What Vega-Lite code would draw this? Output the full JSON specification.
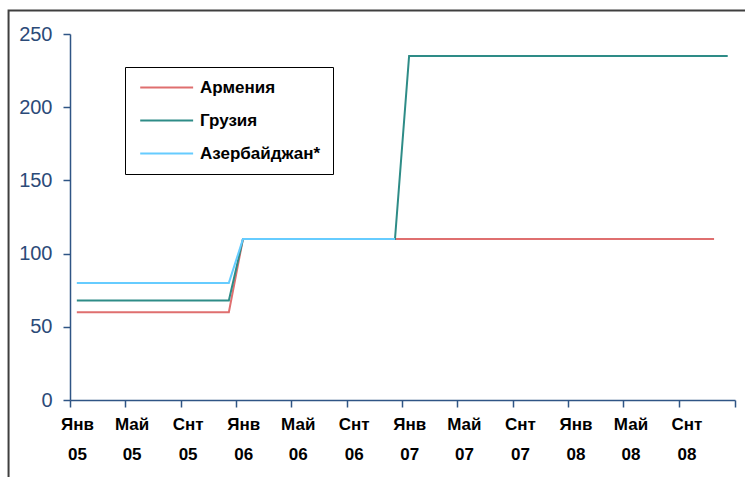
{
  "$schema": "https://vega.github.io/schema/vega-lite/v6.json",
  "width": 665,
  "height": 366,
  "autosize": {"type": "none"},
  "padding": {"left": 70, "top": 34, "right": 10, "bottom": 77},
  "background": "white",
  "config": {"view": {"stroke": null}, "font": "Liberation Sans"},
  "layer": [
    {
      "data": {"values": [{}]},
      "mark": {"type": "rect", "fill": null, "stroke": "#3f3f3f", "strokeWidth": 2, "clip": false},
      "encoding": {
        "x": {"datum": {"year": 2004, "month": 8, "date": 19, "utc": true}, "type": "temporal"},
        "x2": {"datum": {"year": 2009, "month": 4, "date": 1, "utc": true}},
        "y": {"datum": 266, "type": "quantitative"},
        "y2": {"datum": -80}
      }
    },
    {
      "data": {
        "values": [
          {"date": "2005-01-16", "series": "Армения", "value": 60},
          {"date": "2005-02-16", "series": "Армения", "value": 60},
          {"date": "2005-03-16", "series": "Армения", "value": 60},
          {"date": "2005-04-16", "series": "Армения", "value": 60},
          {"date": "2005-05-16", "series": "Армения", "value": 60},
          {"date": "2005-06-16", "series": "Армения", "value": 60},
          {"date": "2005-07-16", "series": "Армения", "value": 60},
          {"date": "2005-08-16", "series": "Армения", "value": 60},
          {"date": "2005-09-16", "series": "Армения", "value": 60},
          {"date": "2005-10-16", "series": "Армения", "value": 60},
          {"date": "2005-11-16", "series": "Армения", "value": 60},
          {"date": "2005-12-16", "series": "Армения", "value": 60},
          {"date": "2006-01-16", "series": "Армения", "value": 110},
          {"date": "2006-02-16", "series": "Армения", "value": 110},
          {"date": "2006-03-16", "series": "Армения", "value": 110},
          {"date": "2006-04-16", "series": "Армения", "value": 110},
          {"date": "2006-05-16", "series": "Армения", "value": 110},
          {"date": "2006-06-16", "series": "Армения", "value": 110},
          {"date": "2006-07-16", "series": "Армения", "value": 110},
          {"date": "2006-08-16", "series": "Армения", "value": 110},
          {"date": "2006-09-16", "series": "Армения", "value": 110},
          {"date": "2006-10-16", "series": "Армения", "value": 110},
          {"date": "2006-11-16", "series": "Армения", "value": 110},
          {"date": "2006-12-16", "series": "Армения", "value": 110},
          {"date": "2007-01-16", "series": "Армения", "value": 110},
          {"date": "2007-02-16", "series": "Армения", "value": 110},
          {"date": "2007-03-16", "series": "Армения", "value": 110},
          {"date": "2007-04-16", "series": "Армения", "value": 110},
          {"date": "2007-05-16", "series": "Армения", "value": 110},
          {"date": "2007-06-16", "series": "Армения", "value": 110},
          {"date": "2007-07-16", "series": "Армения", "value": 110},
          {"date": "2007-08-16", "series": "Армения", "value": 110},
          {"date": "2007-09-16", "series": "Армения", "value": 110},
          {"date": "2007-10-16", "series": "Армения", "value": 110},
          {"date": "2007-11-16", "series": "Армения", "value": 110},
          {"date": "2007-12-16", "series": "Армения", "value": 110},
          {"date": "2008-01-16", "series": "Армения", "value": 110},
          {"date": "2008-02-16", "series": "Армения", "value": 110},
          {"date": "2008-03-16", "series": "Армения", "value": 110},
          {"date": "2008-04-16", "series": "Армения", "value": 110},
          {"date": "2008-05-16", "series": "Армения", "value": 110},
          {"date": "2008-06-16", "series": "Армения", "value": 110},
          {"date": "2008-07-16", "series": "Армения", "value": 110},
          {"date": "2008-08-16", "series": "Армения", "value": 110},
          {"date": "2008-09-16", "series": "Армения", "value": 110},
          {"date": "2008-10-16", "series": "Армения", "value": 110},
          {"date": "2008-11-16", "series": "Армения", "value": 110},
          {"date": "2005-01-16", "series": "Грузия", "value": 68},
          {"date": "2005-02-16", "series": "Грузия", "value": 68},
          {"date": "2005-03-16", "series": "Грузия", "value": 68},
          {"date": "2005-04-16", "series": "Грузия", "value": 68},
          {"date": "2005-05-16", "series": "Грузия", "value": 68},
          {"date": "2005-06-16", "series": "Грузия", "value": 68},
          {"date": "2005-07-16", "series": "Грузия", "value": 68},
          {"date": "2005-08-16", "series": "Грузия", "value": 68},
          {"date": "2005-09-16", "series": "Грузия", "value": 68},
          {"date": "2005-10-16", "series": "Грузия", "value": 68},
          {"date": "2005-11-16", "series": "Грузия", "value": 68},
          {"date": "2005-12-16", "series": "Грузия", "value": 68},
          {"date": "2006-01-16", "series": "Грузия", "value": 110},
          {"date": "2006-02-16", "series": "Грузия", "value": 110},
          {"date": "2006-03-16", "series": "Грузия", "value": 110},
          {"date": "2006-04-16", "series": "Грузия", "value": 110},
          {"date": "2006-05-16", "series": "Грузия", "value": 110},
          {"date": "2006-06-16", "series": "Грузия", "value": 110},
          {"date": "2006-07-16", "series": "Грузия", "value": 110},
          {"date": "2006-08-16", "series": "Грузия", "value": 110},
          {"date": "2006-09-16", "series": "Грузия", "value": 110},
          {"date": "2006-10-16", "series": "Грузия", "value": 110},
          {"date": "2006-11-16", "series": "Грузия", "value": 110},
          {"date": "2006-12-16", "series": "Грузия", "value": 110},
          {"date": "2007-01-16", "series": "Грузия", "value": 235},
          {"date": "2007-02-16", "series": "Грузия", "value": 235},
          {"date": "2007-03-16", "series": "Грузия", "value": 235},
          {"date": "2007-04-16", "series": "Грузия", "value": 235},
          {"date": "2007-05-16", "series": "Грузия", "value": 235},
          {"date": "2007-06-16", "series": "Грузия", "value": 235},
          {"date": "2007-07-16", "series": "Грузия", "value": 235},
          {"date": "2007-08-16", "series": "Грузия", "value": 235},
          {"date": "2007-09-16", "series": "Грузия", "value": 235},
          {"date": "2007-10-16", "series": "Грузия", "value": 235},
          {"date": "2007-11-16", "series": "Грузия", "value": 235},
          {"date": "2007-12-16", "series": "Грузия", "value": 235},
          {"date": "2008-01-16", "series": "Грузия", "value": 235},
          {"date": "2008-02-16", "series": "Грузия", "value": 235},
          {"date": "2008-03-16", "series": "Грузия", "value": 235},
          {"date": "2008-04-16", "series": "Грузия", "value": 235},
          {"date": "2008-05-16", "series": "Грузия", "value": 235},
          {"date": "2008-06-16", "series": "Грузия", "value": 235},
          {"date": "2008-07-16", "series": "Грузия", "value": 235},
          {"date": "2008-08-16", "series": "Грузия", "value": 235},
          {"date": "2008-09-16", "series": "Грузия", "value": 235},
          {"date": "2008-10-16", "series": "Грузия", "value": 235},
          {"date": "2008-11-16", "series": "Грузия", "value": 235},
          {"date": "2008-12-16", "series": "Грузия", "value": 235},
          {"date": "2005-01-16", "series": "Азербайджан*", "value": 80},
          {"date": "2005-02-16", "series": "Азербайджан*", "value": 80},
          {"date": "2005-03-16", "series": "Азербайджан*", "value": 80},
          {"date": "2005-04-16", "series": "Азербайджан*", "value": 80},
          {"date": "2005-05-16", "series": "Азербайджан*", "value": 80},
          {"date": "2005-06-16", "series": "Азербайджан*", "value": 80},
          {"date": "2005-07-16", "series": "Азербайджан*", "value": 80},
          {"date": "2005-08-16", "series": "Азербайджан*", "value": 80},
          {"date": "2005-09-16", "series": "Азербайджан*", "value": 80},
          {"date": "2005-10-16", "series": "Азербайджан*", "value": 80},
          {"date": "2005-11-16", "series": "Азербайджан*", "value": 80},
          {"date": "2005-12-16", "series": "Азербайджан*", "value": 80},
          {"date": "2006-01-16", "series": "Азербайджан*", "value": 110},
          {"date": "2006-02-16", "series": "Азербайджан*", "value": 110},
          {"date": "2006-03-16", "series": "Азербайджан*", "value": 110},
          {"date": "2006-04-16", "series": "Азербайджан*", "value": 110},
          {"date": "2006-05-16", "series": "Азербайджан*", "value": 110},
          {"date": "2006-06-16", "series": "Азербайджан*", "value": 110},
          {"date": "2006-07-16", "series": "Азербайджан*", "value": 110},
          {"date": "2006-08-16", "series": "Азербайджан*", "value": 110},
          {"date": "2006-09-16", "series": "Азербайджан*", "value": 110},
          {"date": "2006-10-16", "series": "Азербайджан*", "value": 110},
          {"date": "2006-11-16", "series": "Азербайджан*", "value": 110},
          {"date": "2006-12-16", "series": "Азербайджан*", "value": 110}
        ]
      },
      "mark": {"type": "line", "strokeWidth": 2, "interpolate": "linear"},
      "encoding": {
        "x": {
          "field": "date",
          "type": "temporal",
          "scale": {
            "type": "utc",
            "domain": [
              {"year": 2005, "month": 1, "date": 1, "utc": true},
              {"year": 2009, "month": 1, "date": 1, "utc": true}
            ]
          },
          "axis": {
            "title": null,
            "grid": false,
            "values": [
              {"year": 2005, "month": 1, "date": 1, "utc": true},
              {"year": 2005, "month": 5, "date": 1, "utc": true},
              {"year": 2005, "month": 9, "date": 1, "utc": true},
              {"year": 2006, "month": 1, "date": 1, "utc": true},
              {"year": 2006, "month": 5, "date": 1, "utc": true},
              {"year": 2006, "month": 9, "date": 1, "utc": true},
              {"year": 2007, "month": 1, "date": 1, "utc": true},
              {"year": 2007, "month": 5, "date": 1, "utc": true},
              {"year": 2007, "month": 9, "date": 1, "utc": true},
              {"year": 2008, "month": 1, "date": 1, "utc": true},
              {"year": 2008, "month": 5, "date": 1, "utc": true},
              {"year": 2008, "month": 9, "date": 1, "utc": true},
              {"year": 2009, "month": 1, "date": 1, "utc": true}
            ],
            "labelExpr": "datum.value >= utc(2009,0,1) ? '' : [(utcmonth(datum.value) == 0 ? 'Янв' : utcmonth(datum.value) == 4 ? 'Май' : 'Снт'), utcFormat(datum.value, '%y')]",
            "labelFont": "Liberation Sans",
            "labelFontWeight": "bold",
            "labelFontSize": 17,
            "labelColor": "black",
            "labelLineHeight": 30,
            "labelAlign": "center",
            "labelBaseline": "top",
            "labelOffset": 7,
            "labelPadding": 9,
            "labelOverlap": false,
            "labelFlush": false,
            "tickSize": 7,
            "tickColor": "#2f5585",
            "domainColor": "#2f5585",
            "domainWidth": 1.5,
            "tickWidth": 1.5
          }
        },
        "y": {
          "field": "value",
          "type": "quantitative",
          "scale": {"domain": [0, 250], "nice": false, "zero": true},
          "axis": {
            "title": null,
            "grid": false,
            "values": [0, 50, 100, 150, 200, 250],
            "labelFont": "Liberation Sans",
            "labelFontSize": 20,
            "labelColor": "#2b4a78",
            "labelPadding": 11,
            "tickSize": 7,
            "tickColor": "#2f5585",
            "domainColor": "#2f5585",
            "domainWidth": 1.5,
            "tickWidth": 1.5
          }
        },
        "color": {
          "field": "series",
          "type": "nominal",
          "scale": {
            "domain": ["Армения", "Грузия", "Азербайджан*"],
            "range": ["#df6f6f", "#2e8c87", "#66ccff"]
          },
          "legend": {
            "title": null,
            "orient": "none",
            "legendX": 55,
            "legendY": 33,
            "direction": "vertical",
            "fillColor": "white",
            "strokeColor": "black",
            "padding": 12,
            "symbolType": "M-1,0H9",
            "symbolSize": 112,
            "symbolStrokeWidth": 2,
            "labelFont": "Liberation Sans",
            "labelFontWeight": "bold",
            "labelFontSize": 17,
            "labelColor": "black",
            "labelOffset": 46,
            "rowPadding": 15
          }
        }
      }
    }
  ]
}
